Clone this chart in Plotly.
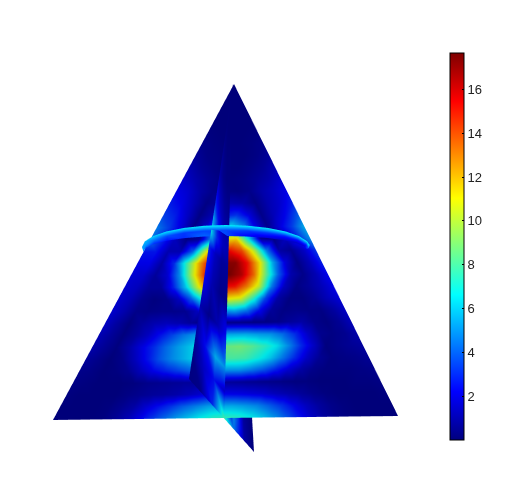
import math
import plotly.graph_objects as go

WIDTH = 519
HEIGHT = 477
PAGE_PAD = 8  # the page body adds this around the figure

tick_values = [2, 4, 6, 8, 10, 12, 14, 16]
color_min = 0.02
color_max = 17.65

jet = [[0, '#00007F'], [0.125, '#0000FF'], [0.375, '#00FFFF'],
       [0.625, '#FFFF00'], [0.875, '#FF0000'], [1, '#7F0000']]

# corners of the big triangle, read in page pixels
tri_top = (234, 84)
tri_left = (53, 420)
tri_right = (398, 416)

# triangle values, one list per row going down from the tip
tri_rows = [
    [.2],
    [.2, .2],
    [.2, .2, .2],
    [.2, .2, .2, .2],
    [.3, .2, .2, .2, .3],
    [.5, .3, .2, .2, .3, .5],
    [.8, .4, .3, .2, .2, .4, .8],
    [1.3, .7, .4, .2, .2, .4, .7, 1.3],
    [1.8, 1.2, .7, .4, .3, .4, .7, 1.1, 1.8],
    [2.3, 1.8, 1, .5, .4, .3, .5, 1.1, 1.6, 2.3],
    [2.8, 2.2, 1.3, .4, .8, 1.2, 1, .4, 1.2, 1.8, 2.8],
    [3.5, 2.8, 1.6, .4, 1.2, 2.8, 3.2, 2, .5, 1.4, 2.4, 4],
    [4.6, 3.4, 2, .5, 1.6, 5, 6.5, 5, 2.2, .6, 2, 3.4, 5.5],
    [4.5, 3, 1.5, .4, .8, 5, 11, 11.5, 6.5, .8, .4, 1.5, 3, 5],
    [2.6, 2.6, 1.2, 1.2, 4, 10, 14, 15.3, 14, 10, 4.5, 1, .6, 1.6, 3.2],
    [2.2, 2.2, 1, 3, 7.5, 12, 15.8, 17.3, 17.2, 15, 11, 5.5, 2, .4, 1.4, 2.8],
    [1.9, 1.7, .8, 1.8, 5, 10, 14.5, 17, 17.6, 16.5, 13.5, 8.5, 4, 1.2, .5, 1.3, 2.4],
    [1.8, 1.5, .8, .8, 2.8, 6, 10.5, 14, 15.3, 15, 13, 10, 4.5, 1.5, .4, .8, 1.4, 2.2],
    [1.8, 1.3, .6, .3, .5, 1.5, 4, 7.5, 10, 11, 10.5, 7.5, 3.5, 1, .3, .3, .7, 1.4, 2],
    [1.8, 1.2, .5, .4, .5, .5, .6, 1.5, 3.5, 5, 5.5, 4.5, 2.5, .8, .4, .5, .4, .4, .9, 1.6],
    [1.6, .9, .3, .8, 1.2, 1.4, 1.2, .8, .4, .4, .5, .5, .4, .4, .5, .8, 1, .5, .3, .7, 1.4],
    [1.3, .8, .3, .8, 1.5, 2.5, 3.5, 4.5, 5.2, 5.2, 5.5, 5.5, 5.5, 5.2, 5, 4.2, 3, 1.6, .6, .4, .6, 1.1],
    [1.1, .7, .3, 1, 2, 3, 4.2, 5.2, 6, 7, 8.3, 8.6, 8.8, 8.3, 7.5, 6.5, 4.8, 3, 1.6, .3, .5, .7, .9],
    [.8, .5, .2, .5, 1.4, 2.5, 3.8, 4.8, 5.6, 6.4, 7.5, 8, 8, 7.8, 7, 6, 4.5, 3, 1.6, .7, .3, .4, .5, .7],
    [.5, .4, .2, .3, .6, 1.4, 2.2, 2.8, 3.4, 4, 4.6, 5, 5, 5, 4.5, 3.8, 2.8, 1.8, 1, .5, .3, .3, .3, .4, .5],
    [.4, .3, .2, .2, .2, .3, .5, .6, .7, .8, .8, .8, .8, .8, .7, .6, .5, .4, .3, .3, .2, .2, .2, .3, .3, .4],
    [.3, .2, .2, .2, .2, .4, .6, .8, .9, 1.1, 1.4, 1.8, 2.2, 2.3, 2.2, 2, 1.8, 1.4, 1.1, .8, .5, .3, .2, .2, .2, .2, .3],
    [.2, .2, .2, .2, .3, .6, 1, 1.8, 2.5, 3.2, 4, 4.6, 5.2, 5.5, 5.5, 5.2, 4.8, 4, 3.2, 2.3, 1.5, .9, .5, .3, .2, .2, .2, .2],
    [.2, .2, .2, .2, .3, .7, 1.3, 2.2, 3.2, 4.2, 5.2, 6, 6.8, 7.4, 7.6, 7.4, 6.8, 6, 5, 3.8, 2.6, 1.6, .9, .5, .3, .2, .2, .2, .2],
]

# the slice that cuts through the triangle
slice_top = (233, 84)
slice_left = (189, 379)
slice_bottom = (254, 452)
slice_cut = 0.54  # where the base of the triangle crosses the slice edge
slice_cols = [0, .18, .36, .54, .69, .85, 1]
slice_steps = [0, .15, .3, .4, .45, .5, .55, .65, .75, .85, .92, 1]
slice_rows = [
    [.2, .2, .2, .2, .2, .2, .2],
    [.3, .2, .2, .2, .2, .2, .2],
    [1, .5, .3, .3, .2, .2, .2],
    [3, 1.5, .8, .6, .3, .2, .2],
    [5.5, 2.5, 1.2, 1, .4, .2, .2],
    [6.5, 3, 1.5, 1.2, .4, .2, .2],
    [3, 1.5, .8, .8, .4, .2, .2],
    [2.5, 1.2, .5, .5, .4, .2, .2],
    [1.2, .5, 1.2, 2.5, 1, .3, .2],
    [.8, 2.5, 5.5, 5, 2, .4, .2],
    [.4, 1.5, 2.5, 1.5, 5, .8, .2],
    [.3, .5, 3, 8, 4.5, 1, .2],
]

# the ring that crosses the triangle: outer, middle and inner edge of the band
ring_angles = [180, 165, 150, 135, 120, 105, 90, 75, 60, 45, 30, 15, 5]
ring_outer = [5, 5.5, 6, 6.2, 6.3, 6.5, 6.5, 6.5, 6.5, 6.5, 6.5, 6.5, 6.5]
ring_middle = [5, 4.8, 4.2, 3.5, 3.2, 3.5, 3.5, 3.2, 3.2, 2.8, 2.6, 2.8, 4]
ring_inner = [4.5, 3.8, 3, 2.5, 3, 4, 3.5, 2.2, 1.6, 1.2, 1.2, 1.5, 3]


def grid_faces(n_rows, n_cols):
    i, j, k = [], [], []
    for r in range(n_rows - 1):
        for c in range(n_cols - 1):
            a = r * n_cols + c
            b = a + 1
            d = a + n_cols
            e = d + 1
            i += [a, a]
            j += [b, e]
            k += [e, d]
    return i, j, k


def add_mesh(fig, xs, ys, zs, values, i, j, k, show_bar=False, ambient=0.9):
    fig.add_trace(go.Mesh3d(
        x=[p - PAGE_PAD for p in xs],
        y=[HEIGHT - (p - PAGE_PAD) for p in ys],
        z=zs,
        i=i, j=j, k=k,
        intensity=values,
        intensitymode='vertex',
        colorscale=jet,
        cmin=color_min,
        cmax=color_max,
        showscale=show_bar,
        hoverinfo='skip',
        lighting=dict(ambient=ambient, diffuse=0, specular=0, fresnel=0, roughness=1),
        flatshading=False,
        colorbar=dict(
            x=(450 - PAGE_PAD) / WIDTH, xanchor='left', xpad=0,
            y=1 - (440 - PAGE_PAD) / HEIGHT, yanchor='bottom', ypad=0,
            thickness=14, thicknessmode='pixels',
            len=387, lenmode='pixels',
            outlinecolor='black', outlinewidth=1,
            tickvals=tick_values,
            tickprefix='\u00a0\u00a0',
            ticks='inside', ticklen=2, tickcolor='black',
            tickfont=dict(family='Liberation Sans', size=13, color='#222222'),
        ),
    ))


fig = go.Figure()

# triangle
xs, ys, values = [], [], []
n = len(tri_rows) - 1
for r, row in enumerate(tri_rows):
    t = r / n
    lx = tri_top[0] + (tri_left[0] - tri_top[0]) * t
    ly = tri_top[1] + (tri_left[1] - tri_top[1]) * t
    rx = tri_top[0] + (tri_right[0] - tri_top[0]) * t
    ry = tri_top[1] + (tri_right[1] - tri_top[1]) * t
    for c, v in enumerate(row):
        s = c / r if r else 0
        xs.append(lx + (rx - lx) * s)
        ys.append(ly + (ry - ly) * s)
        values.append(v)
i, j, k = [], [], []
start = 0
for r in range(n):
    below = start + r + 1
    for c in range(r + 1):
        i.append(start + c)
        j.append(below + c)
        k.append(below + c + 1)
        if c < r:
            i.append(start + c)
            j.append(below + c + 1)
            k.append(start + c + 1)
    start = below
add_mesh(fig, xs, ys, [0] * len(xs), values, i, j, k, show_bar=True)

# slice, tilted so it passes through the triangle along the cut line
xs, ys, zs, values = [], [], [], []
for t, row in zip(slice_steps, slice_rows):
    for u, v in zip(slice_cols, row):
        ex = slice_left[0] + (slice_bottom[0] - slice_left[0]) * u
        ey = slice_left[1] + (slice_bottom[1] - slice_left[1]) * u
        xs.append(slice_top[0] + (ex - slice_top[0]) * t)
        ys.append(slice_top[1] + (ey - slice_top[1]) * t)
        zs.append((slice_cut - u) * t * 40)
        values.append(v)
i, j, k = grid_faces(len(slice_steps), len(slice_cols))
add_mesh(fig, xs, ys, zs, values, i, j, k)

# ring, the band is wider on its left end
xs, ys, zs, values = [], [], [], []
for a, o, m, q in zip(ring_angles, ring_outer, ring_middle, ring_inner):
    c = math.cos(math.radians(a))
    s = math.sin(math.radians(a))
    low = 252 - 16 * s if a > 90 else 250 - 14 * s
    xs += [226 + 84 * c, 226 + 83 * c, 225 + 82 * c]
    ys += [247 - 22 * s, 247 - 22 * s + 2 + (low - 247 + 22 * s) * 0.3, low]
    zs += [30, 6, 1]
    values += [o, m, q]
i, j, k = grid_faces(len(ring_angles), 3)
add_mesh(fig, xs, ys, zs, values, i, j, k, ambient=1)

# the colour bar of the reference has tick marks on its left side too
bar_ticks = []
for v in tick_values:
    py = 440 - (v - color_min) / (color_max - color_min) * 387
    yp = 1 - (py - PAGE_PAD) / HEIGHT
    bar_ticks.append(dict(type='line', xref='paper', yref='paper',
                          x0=(450 - PAGE_PAD) / WIDTH, x1=(452 - PAGE_PAD) / WIDTH,
                          y0=yp, y1=yp, line=dict(color='black', width=1)))

axis = dict(visible=False, showgrid=False, zeroline=False, showspikes=False)
fig.update_layout(
    width=WIDTH,
    height=HEIGHT,
    margin=dict(l=0, r=0, t=0, b=0),
    paper_bgcolor='white',
    showlegend=False,
    shapes=bar_ticks,
    scene=dict(
        domain=dict(x=[0, 1], y=[0, 1]),
        xaxis=dict(axis, range=[0, WIDTH]),
        yaxis=dict(axis, range=[0, HEIGHT]),
        zaxis=dict(axis, range=[-50, 50]),
        aspectmode='manual',
        aspectratio=dict(x=2 * WIDTH / HEIGHT, y=2, z=1),
        camera=dict(
            eye=dict(x=0, y=0, z=1),
            up=dict(x=0, y=1, z=0),
            center=dict(x=0, y=0, z=0),
            projection=dict(type='orthographic'),
        ),
    ),
)

fig.write_html("out.html")
